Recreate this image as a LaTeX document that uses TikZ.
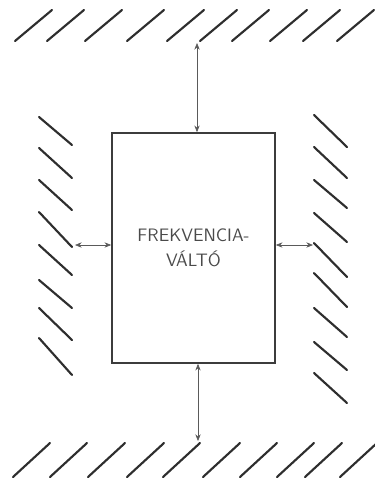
\documentclass[tikz,border=0pt]{standalone}
\usepackage{fontspec}
\usetikzlibrary{positioning,arrows.meta}
\definecolor{ink}{HTML}{4A4A4A}
\definecolor{wall}{HTML}{2E2E2E}
\definecolor{frame}{HTML}{3C3C3C}
\definecolor{edge}{HTML}{5A5A5A}

\begin{document}
\begin{tikzpicture}[
    x=0.75pt, y=-0.75pt,
    every node/.style={text=ink},
    unit/.style={draw=frame, line width=1.2pt, minimum width=122.25pt, minimum height=172.5pt,
                 inner sep=0pt, align=center,
                 font=\sffamily\addfontfeature{LetterSpace=4}\fontsize{13.5}{19}\selectfont},
    hatch/.style={draw=wall, line width=1.6pt, line cap=round},
    rel/.style={{Stealth[length=5pt,width=4pt]}-{Stealth[length=5pt,width=4pt]},
                draw=edge, line width=0.5pt},
  ]
  \useasboundingbox (0,0) rectangle (375,479);

  % the converter in the middle
  \node[unit] (valto) at (193.5,248) {FREKVENCIA-\\VÁLTÓ};

  % the walls round it
  \foreach \x in {15,47,85,127,167,200,232,270,303,337}
    \draw[hatch] (\x,41) -- ++(37,-31);
  \foreach \x in {13,50,88,127,163,203,240,277,305,340}
    \draw[hatch] (\x,477) -- ++(37,-34);
  \foreach \y/\d in {117/28,148/30,180/30,212/35,245/30,280/28,308/32,338/37}
    \draw[hatch] (39,\y) -- ++(33,\d);
  \foreach \y/\d in {115/32,147/31,180/28,213/29,243/34,273/34,308/29,342/28,373/30}
    \draw[hatch] (314,\y) -- ++(33,\d);

  % where the arrows meet the walls
  \coordinate (topwall) at (197,43);
  \coordinate (botwall) at (198,441);
  \coordinate (leftwall) at (75,245);
  \coordinate (rightwall) at (313,245);

  \draw[rel] (valto.north -| topwall) -- (topwall);
  \draw[rel] (valto.south -| botwall) -- (botwall);
  \draw[rel] (valto.west |- leftwall) -- (leftwall);
  \draw[rel] (valto.east |- rightwall) -- (rightwall);
\end{tikzpicture}
\end{document}
